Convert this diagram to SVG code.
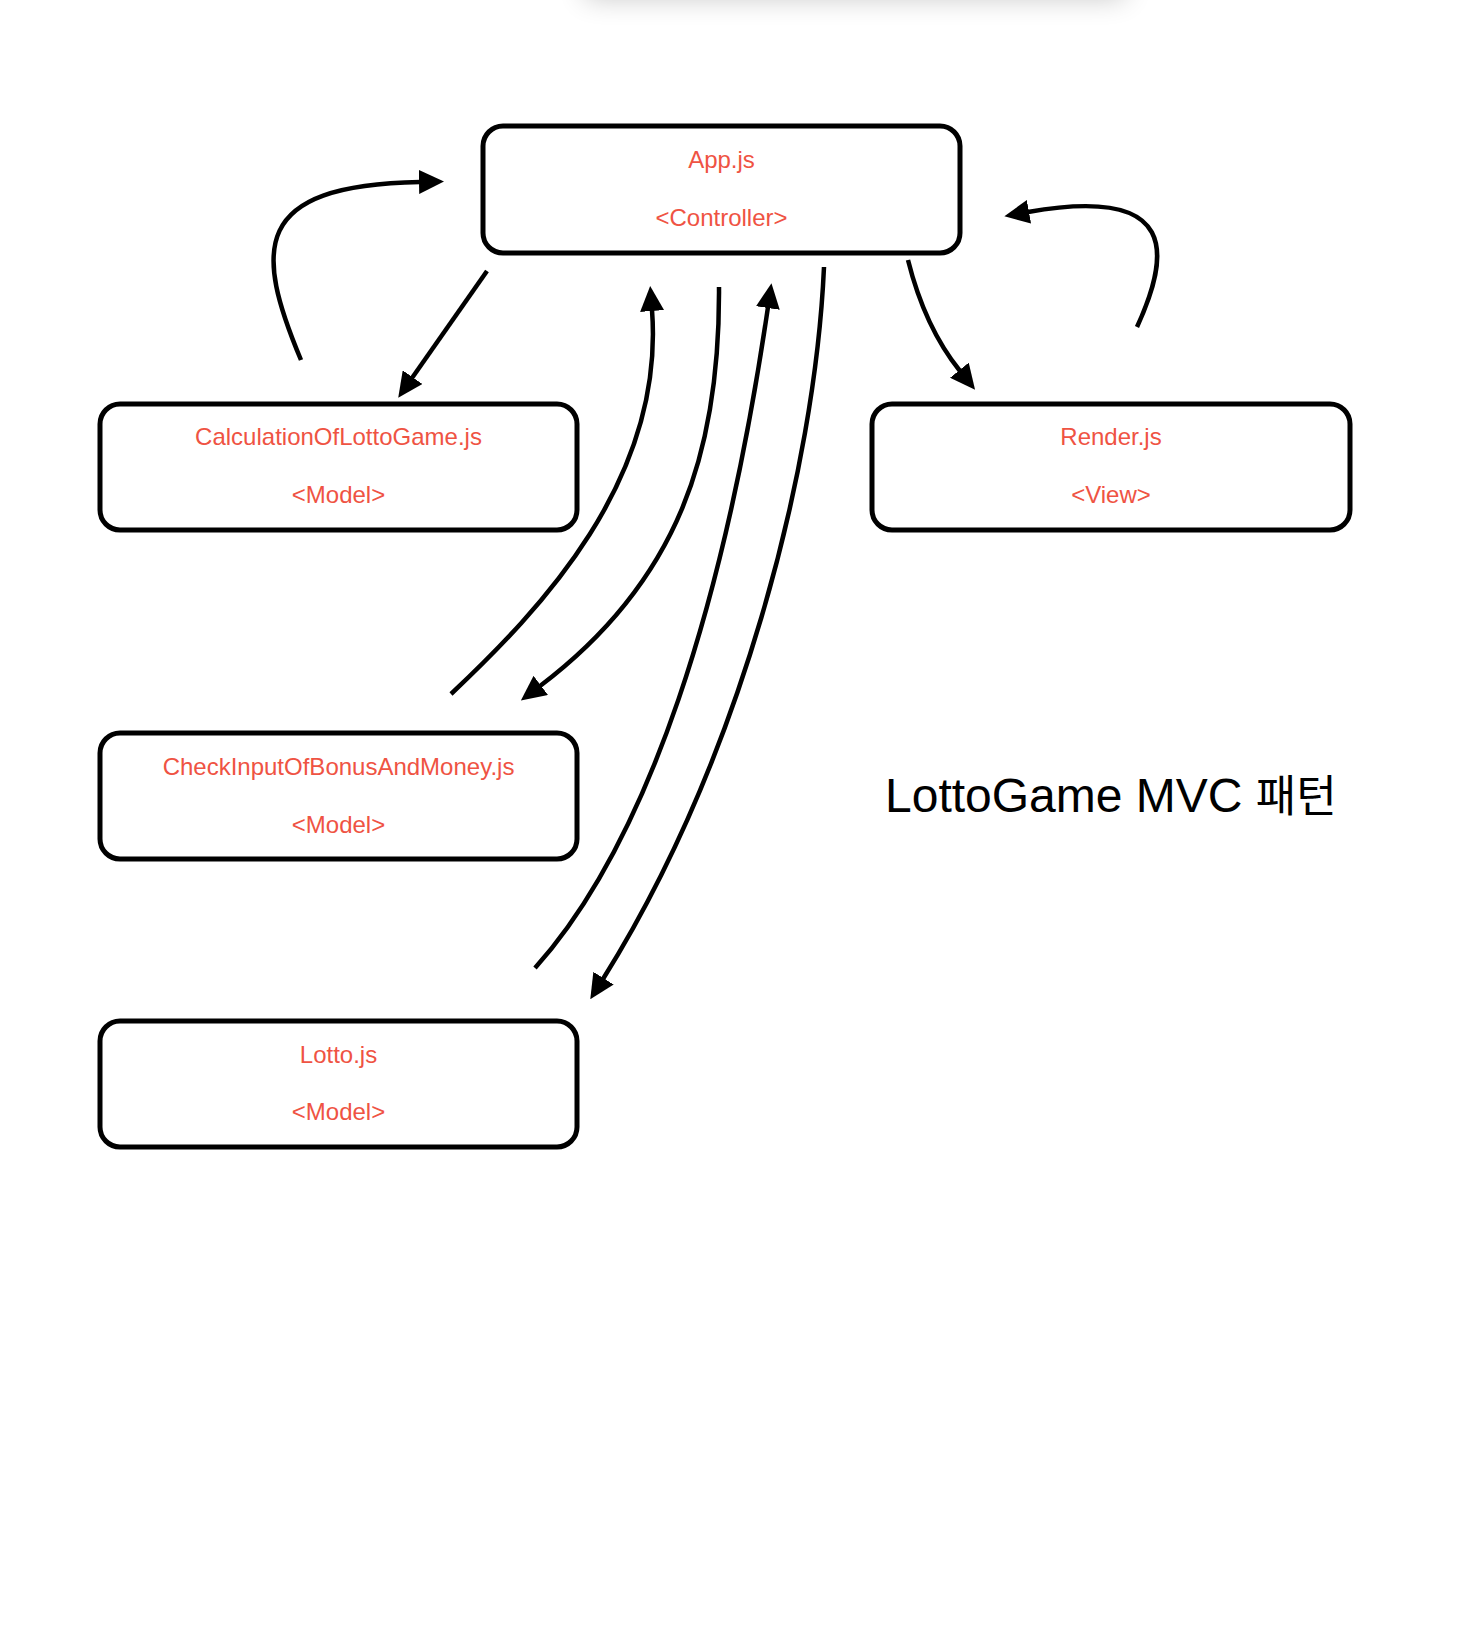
<svg xmlns="http://www.w3.org/2000/svg" width="1481" height="1638" viewBox="0 0 1481 1638">
  <style>
    .box { fill: #ffffff; stroke: #000000; stroke-width: 5; }
    .lbl { font-family: "Liberation Sans", Arial, sans-serif; font-size: 24px; fill: #EF5343; text-anchor: middle; }
    .conn { fill: none; stroke: #000000; stroke-width: 4.5; }
    .title { font-family: "Liberation Sans", "Noto Sans CJK KR", sans-serif; font-size: 48px; fill: #000000; }
  </style>
  <defs>
    <marker id="arrow" viewBox="0 -12 25 24" markerWidth="25" markerHeight="24" refX="1" refY="0" orient="auto" markerUnits="userSpaceOnUse">
      <path d="M0,-12 L25,0 L0,12 Z" fill="#000000"/>
    </marker>
    <filter id="blur" x="-20%" y="-200%" width="140%" height="500%">
      <feGaussianBlur stdDeviation="14"/>
    </filter>
  </defs>

  <rect x="585" y="-40" width="540" height="38" fill="#000000" opacity="0.22" filter="url(#blur)"/>

  <g id="node-app">
    <rect class="box" x="483" y="126" width="477" height="127" rx="20" ry="20"/>
    <text class="lbl" x="721.5" y="168">App.js</text>
    <text class="lbl" x="721.5" y="226">&lt;Controller&gt;</text>
  </g>
  <g id="node-calc">
    <rect class="box" x="100" y="404" width="477" height="126" rx="20" ry="20"/>
    <text class="lbl" x="338.5" y="445">CalculationOfLottoGame.js</text>
    <text class="lbl" x="338.5" y="503">&lt;Model&gt;</text>
  </g>
  <g id="node-render">
    <rect class="box" x="872" y="404" width="478" height="126" rx="20" ry="20"/>
    <text class="lbl" x="1111" y="445">Render.js</text>
    <text class="lbl" x="1111" y="503">&lt;View&gt;</text>
  </g>
  <g id="node-check">
    <rect class="box" x="100" y="733" width="477" height="126" rx="20" ry="20"/>
    <text class="lbl" x="338.5" y="775">CheckInputOfBonusAndMoney.js</text>
    <text class="lbl" x="338.5" y="833">&lt;Model&gt;</text>
  </g>
  <g id="node-lotto">
    <rect class="box" x="100" y="1021" width="477" height="126" rx="20" ry="20"/>
    <text class="lbl" x="338.5" y="1063">Lotto.js</text>
    <text class="lbl" x="338.5" y="1120">&lt;Model&gt;</text>
  </g>

  <g id="connectors">
    <path class="conn" d="M487,271 L412,378" marker-end="url(#arrow)"/>
    <path class="conn" d="M301,360 C255,250 250,185 420,182" marker-end="url(#arrow)"/>
    <path class="conn" d="M908,260 C918,300 935,340 960,371" marker-end="url(#arrow)"/>
    <path class="conn" d="M1137,327 C1170,255 1180,185 1028,212" marker-end="url(#arrow)"/>
    <path class="conn" d="M451,694 C540,610 665,480 652,310" marker-end="url(#arrow)"/>
    <path class="conn" d="M719,287 C720,450 680,580 540,686" marker-end="url(#arrow)"/>
    <path class="conn" d="M535,968 C650,840 725,600 768,307" marker-end="url(#arrow)"/>
    <path class="conn" d="M824,267 C815,470 740,760 603,979" marker-end="url(#arrow)"/>
  </g>

  <g id="title">
    <text class="title" x="885" y="812">LottoGame MVC <tspan font-size="44">패턴</tspan></text>
  </g>
</svg>
